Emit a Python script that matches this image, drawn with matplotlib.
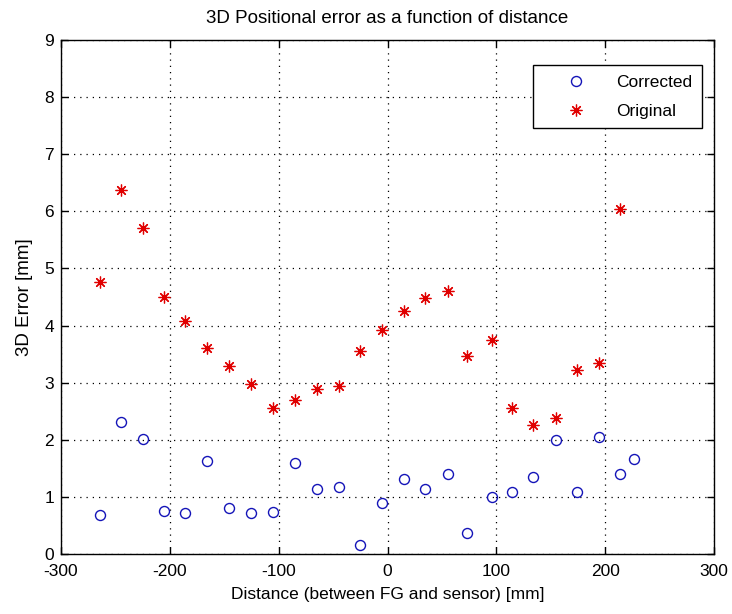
import matplotlib
matplotlib.use("Agg")
import matplotlib.pyplot as plt

plt.rcParams['font.family'] = ['Liberation Sans', 'DejaVu Sans']
plt.rcParams['axes.unicode_minus'] = False

dist_corr = [-264.5, -245.2, -224.7, -205.4, -186.1, -165.6, -145.7, -125.5, -105.0, -85.1,
             -64.9, -45.0, -25.7, -5.5, 15.0, 34.9, 55.4, 73.2, 95.8, 114.5,
             133.8, 154.9, 174.2, 194.7, 214.0, 226.5]
err_corr = [0.68, 2.31, 2.02, 0.76, 0.71, 1.62, 0.81, 0.71, 0.73, 1.60,
            1.13, 1.17, 0.15, 0.89, 1.31, 1.13, 1.40, 0.37, 0.99, 1.08,
            1.34, 2.00, 1.08, 2.05, 1.40, 1.66]

dist_orig = [-264.5, -245.2, -224.7, -205.4, -186.1, -165.6, -145.7, -125.5, -105.0, -85.1,
             -64.9, -45.0, -25.7, -5.5, 15.0, 34.9, 55.4, 73.2, 95.8, 114.5,
             133.8, 154.9, 174.2, 194.7, 214.0]
err_orig = [4.76, 6.37, 5.71, 4.50, 4.08, 3.60, 3.29, 2.97, 2.55, 2.69,
            2.89, 2.95, 3.55, 3.92, 4.26, 4.48, 4.61, 3.47, 3.74, 2.55,
            2.26, 2.39, 3.23, 3.35, 6.04]

xticks = [-300, -200, -100, 0, 100, 200, 300]
yticks = [0, 1, 2, 3, 4, 5, 6, 7, 8, 9]

fig = plt.figure(figsize=(7.32, 6.14), dpi=100)
ax = fig.add_axes([61/732, 1-554/614, (714-61)/732, (554-40)/614])

ax.plot(dist_corr, err_corr, linestyle='none', marker='o', markersize=7.2,
        markerfacecolor='none', markeredgecolor='#1414b8', markeredgewidth=1.0,
        label='Corrected')
ax.plot(dist_orig, err_orig, linestyle='none', marker=(8, 2, 0), markersize=8.5,
        color='#e00000', markeredgewidth=0.9, label='Original')

ax.set_xlim(-300, 300)
ax.set_ylim(0, 9)
ax.set_xticks(xticks)
ax.set_yticks(yticks)
ax.grid(True, linestyle=(0, (1, 4)), color='black', linewidth=0.9)
ax.tick_params(direction='in', top=True, right=True, length=5, width=1,
               labelsize=12.5)
ax.tick_params(axis='x', pad=7)
ax.tick_params(axis='y', pad=5)
for s in ax.spines.values():
    s.set_linewidth(1.0)

ax.set_title('3D Positional error as a function of distance', fontsize=13.5, pad=12)
ax.set_xlabel('Distance (between FG and sensor) [mm]', fontsize=12.5, labelpad=6)
ax.set_ylabel('3D Error [mm]', fontsize=13.5, labelpad=8)

leg = fig.legend(loc='upper right', bbox_to_anchor=(702/732, 1-65/614), fontsize=12.5,
                 frameon=True, fancybox=False, framealpha=1, edgecolor='black',
                 borderaxespad=0, borderpad=0.55, handletextpad=0.35,
                 labelspacing=0.8, handlelength=3.9)
leg.get_frame().set_linewidth(1.0)

fig.savefig('out.png', dpi=100)
